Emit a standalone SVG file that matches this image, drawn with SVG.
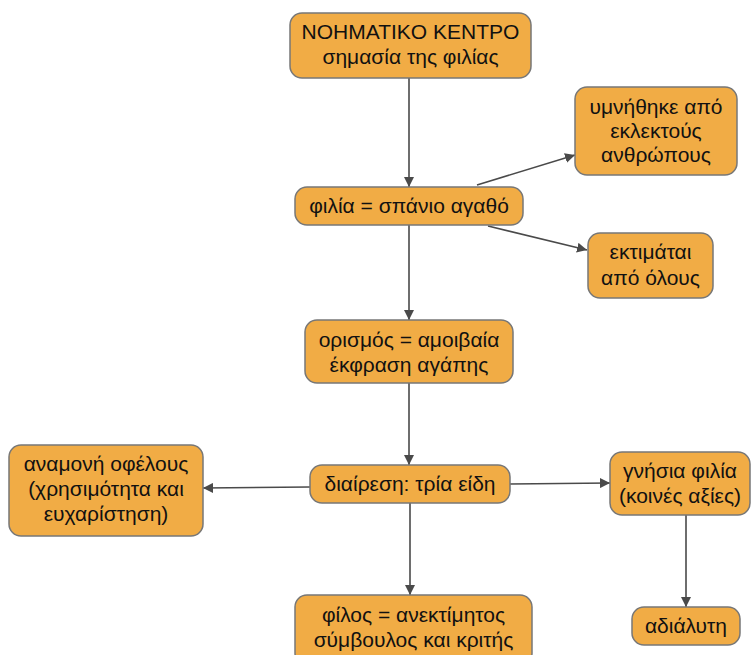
<svg xmlns="http://www.w3.org/2000/svg" width="752" height="655" viewBox="0 0 752 655">
<style>
.n{fill:#F1AC45;stroke:#777;stroke-width:1.5}
.t{font-family:"Liberation Sans",Arial,sans-serif;font-size:21px;fill:#111;text-anchor:middle}
.c{stroke:#4a4a4a;stroke-width:1.6;fill:none;marker-end:url(#ah)}
</style>
<defs>
<marker id="ah" viewBox="0 0 10 10" refX="10" refY="5" markerWidth="10" markerHeight="10" markerUnits="userSpaceOnUse" orient="auto">
<path d="M0,0 L10,5 L0,10 Z" fill="#4a4a4a"/>
</marker>
</defs>
<rect width="752" height="655" fill="#fff"/>
<g id="connectors">
<line class="c" x1="409" y1="78" x2="409" y2="187"/>
<line class="c" x1="477" y1="185" x2="575" y2="155"/>
<line class="c" x1="488" y1="226" x2="587" y2="250"/>
<line class="c" x1="409" y1="225" x2="409" y2="320"/>
<line class="c" x1="409" y1="383" x2="409" y2="465"/>
<line class="c" x1="310" y1="487" x2="203" y2="488"/>
<line class="c" x1="510" y1="484" x2="610" y2="483"/>
<line class="c" x1="410" y1="503" x2="410" y2="595"/>
<line class="c" x1="686" y1="515" x2="686" y2="607"/>
</g>
<g id="n1"><rect class="n" x="290" y="13" width="241" height="65" rx="12"/>
<text class="t" x="410.5" y="39">NOHMATIKO KENTPO</text>
<text class="t" x="410.5" y="64">σημασία της φιλίας</text></g>
<g id="n2"><rect class="n" x="295" y="187" width="228" height="38" rx="12"/>
<text class="t" x="409" y="213">φιλία = σπάνιο αγαθό</text></g>
<g id="n3"><rect class="n" x="575" y="87" width="162" height="88" rx="12"/>
<text class="t" x="656" y="114">υμνήθηκε από</text>
<text class="t" x="656" y="138">εκλεκτούς</text>
<text class="t" x="656" y="162">ανθρώπους</text></g>
<g id="n4"><rect class="n" x="588" y="233" width="125" height="65" rx="12"/>
<text class="t" x="650.5" y="259">εκτιμάται</text>
<text class="t" x="650.5" y="285">από όλους</text></g>
<g id="n5"><rect class="n" x="305" y="320" width="208" height="63" rx="12"/>
<text class="t" x="409" y="347">ορισμός = αμοιβαία</text>
<text class="t" x="409" y="372">έκφραση αγάπης</text></g>
<g id="n6"><rect class="n" x="310" y="465" width="200" height="38" rx="12"/>
<text class="t" x="410" y="491">διαίρεση: τρία είδη</text></g>
<g id="n7"><rect class="n" x="9" y="445" width="194" height="91" rx="12"/>
<text class="t" x="106" y="471">αναμονή οφέλους</text>
<text class="t" x="106" y="496">(χρησιμότητα και</text>
<text class="t" x="106" y="521">ευχαρίστηση)</text></g>
<g id="n8"><rect class="n" x="610" y="452" width="140" height="63" rx="12"/>
<text class="t" x="680" y="478">γνήσια φιλία</text>
<text class="t" x="680" y="503">(κοινές αξίες)</text></g>
<g id="n9"><rect class="n" x="295" y="595" width="237" height="70" rx="12"/>
<text class="t" x="413.5" y="622">φίλος = ανεκτίμητος</text>
<text class="t" x="413.5" y="647">σύμβουλος και κριτής</text></g>
<g id="n10"><rect class="n" x="632" y="607" width="108" height="38" rx="12"/>
<text class="t" x="686" y="633">αδιάλυτη</text></g>
</svg>
